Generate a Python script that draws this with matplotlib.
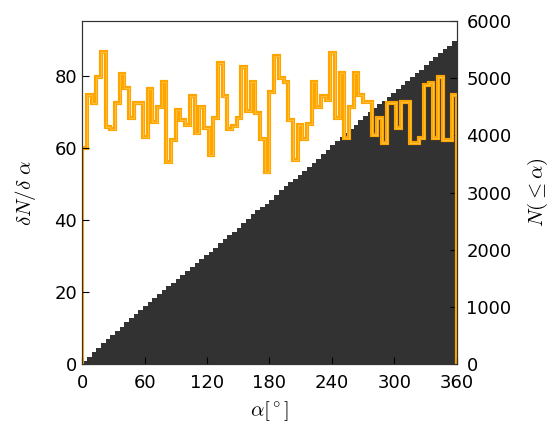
import numpy as np
import matplotlib
matplotlib.use("Agg")
import matplotlib.pyplot as plt

plt.rcParams['mathtext.fontset'] = 'cm'

# angle bins (degrees) and counts per bin
bin_width = 4.5
edges = np.arange(0, 360 + bin_width, bin_width)
counts = [60, 74.7, 72.5, 79.7, 86.7, 65.8, 65.3, 72.5, 80.5, 76.7,
          68.3, 72.5, 72.5, 63, 76.4, 67.3, 71.5, 78.4, 56.1, 62.2,
          70.6, 67.8, 66.4, 74.4, 64.2, 71.5, 65.5, 58, 68.5, 83.6,
          74.4, 65.3, 66.1, 68.3, 82.5, 70.3, 78.3, 69.7, 62.5, 53.3,
          75.6, 85.6, 79.4, 78.4, 67.8, 56.6, 66.4, 62.5, 66.7, 78.3,
          71.5, 74.4, 73.3, 86.4, 68.3, 80.8, 62.8, 71.4, 80.8, 74.7,
          72.8, 72.8, 63.6, 68.3, 61.4, 72.5, 72.5, 65.5, 72.8, 72.8,
          61.4, 61.4, 62.8, 77.5, 78, 62.8, 79.7, 62.2, 62.2, 74.7]

x_ticks = [0, 60, 120, 180, 240, 300, 360]
left_ticks = [0, 20, 40, 60, 80]
right_ticks = [0, 1000, 2000, 3000, 4000, 5000, 6000]

cumulative = np.cumsum(counts)

fig = plt.figure(figsize=(5.55, 4.30), dpi=100)
ax = fig.add_axes([0.148, 0.153, 0.675, 0.798])
ax2 = ax.twinx()

# cumulative count, dark filled staircase
ax2.stairs(cumulative, edges, fill=True, color='#323232', baseline=0)
ax2.set_ylim(0, 6000)
ax2.set_yticks(right_ticks)
ax2.set_ylabel(r'$N(\leq\alpha)$', fontsize=15, labelpad=10)

# differential counts on top
ax.set_zorder(ax2.get_zorder() + 1)
ax.patch.set_visible(False)
ax.stairs(counts, edges, baseline=0, color='#ffa500', lw=3.0)
ax.stairs(counts, edges, baseline=0, color='#ffc54a', lw=0.6)
ax.set_xlim(0, 360)
ax.set_ylim(0, 95.3)
ax.set_xticks(x_ticks)
ax.set_yticks(left_ticks)
ax.set_xlabel(r'$\alpha[^\circ]$', fontsize=15, labelpad=5)
ax.set_ylabel(r'$\delta N/\delta\ \alpha$', fontsize=15, labelpad=12)

for a in (ax, ax2):
    a.tick_params(direction='in', labelsize=13, length=5)
    for s in a.spines.values():
        s.set_color('#333333')
ax.tick_params(axis='x', pad=7)
ax2.tick_params(axis='y', pad=7)

fig.savefig('out.png', dpi=100)
